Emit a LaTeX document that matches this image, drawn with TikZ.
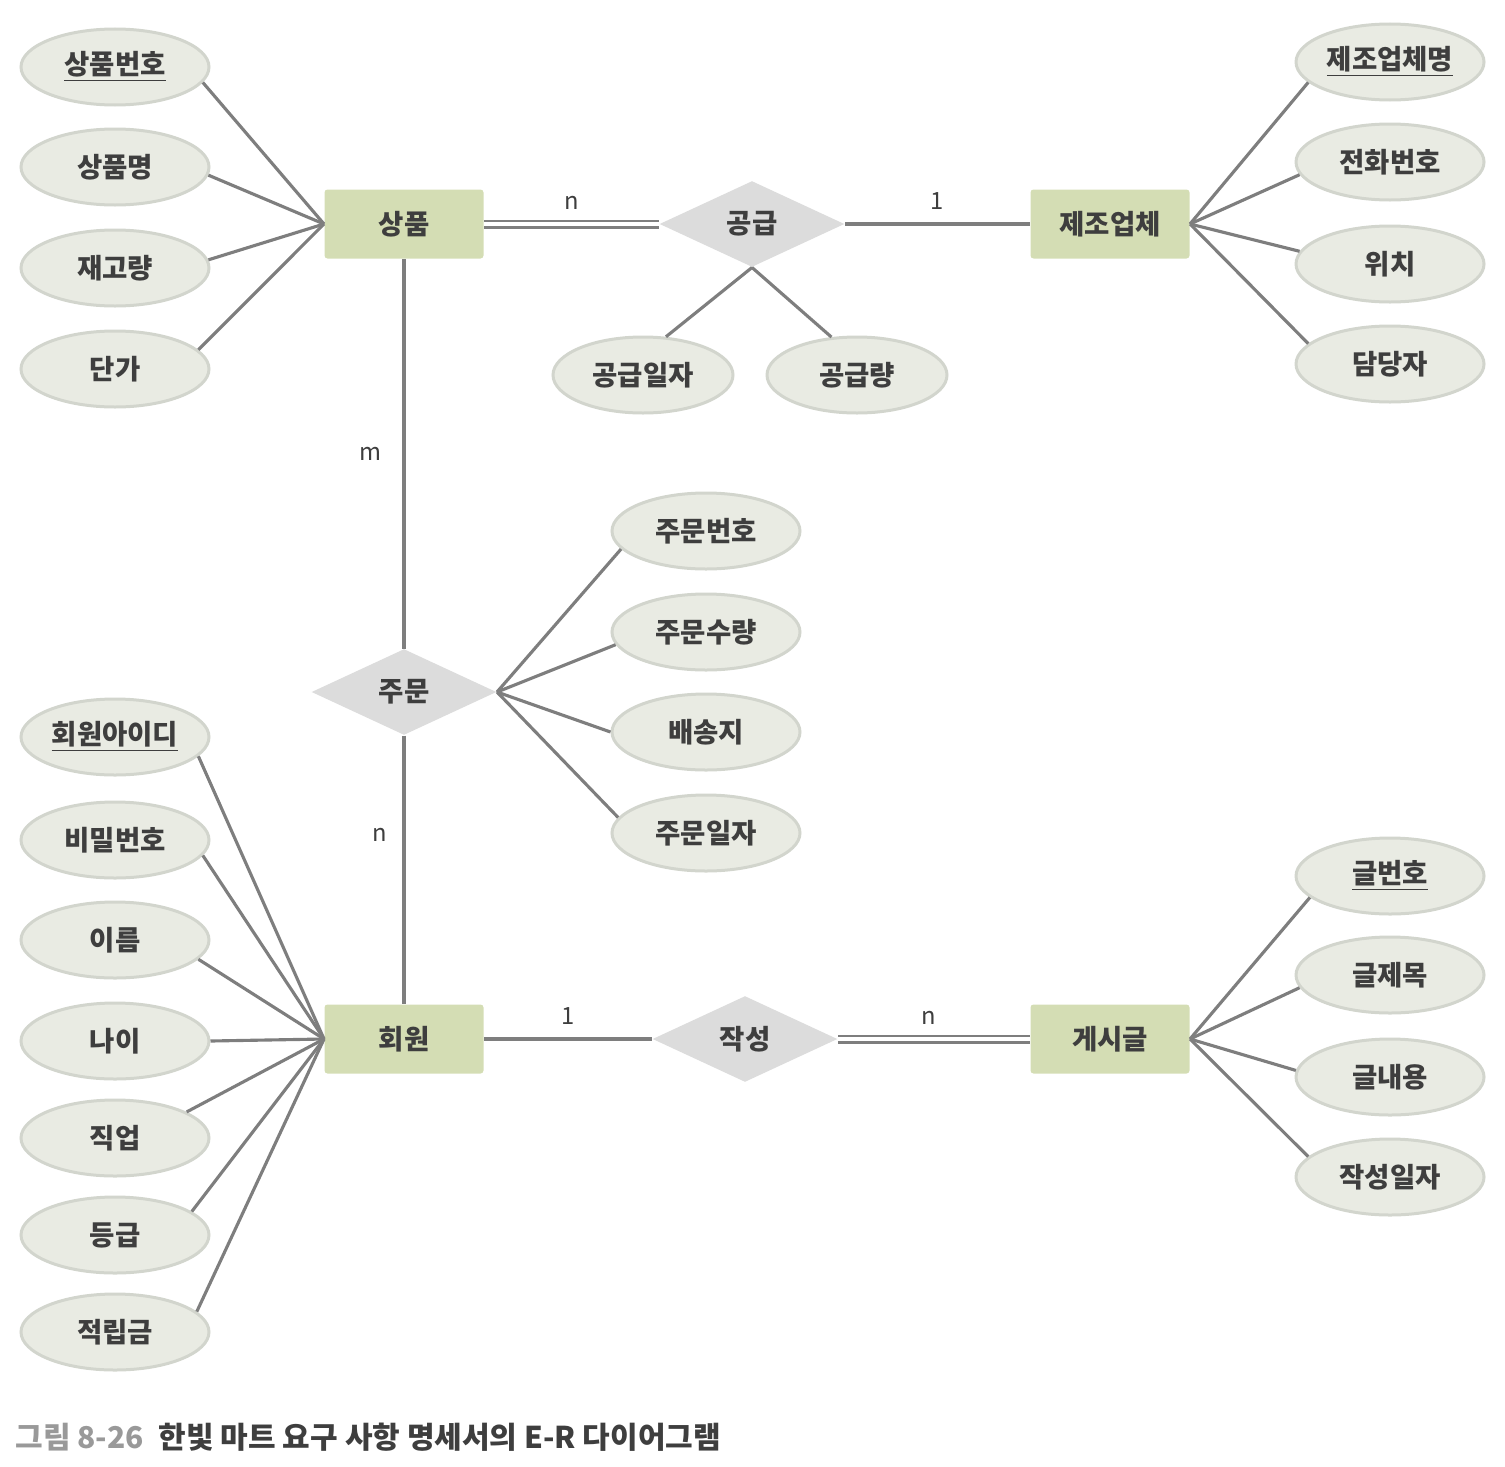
\documentclass[tikz,border=0pt]{standalone}
\usepackage{fontspec}
\setmainfont{Noto Sans CJK KR}
\usetikzlibrary{shapes.geometric}
\definecolor{entfill}{HTML}{D4DDB4}
\definecolor{relfill}{HTML}{DCDCDC}
\definecolor{attfill}{HTML}{E9EBE3}
\definecolor{attdraw}{HTML}{D2D5CD}
\definecolor{linec}{HTML}{7E7E7E}
\definecolor{txtc}{HTML}{3E3E3E}
\tikzset{
  lbl/.style={font=\fontsize{11}{13}\selectfont\bfseries, text=txtc},
  entity/.style={lbl, rectangle, rounded corners=1.2pt, fill=entfill, minimum width=63.6pt, minimum height=27.6pt, inner sep=0pt},
  rel/.style={lbl, diamond, fill=relfill, minimum width=74pt, minimum height=34.4pt, inner sep=0pt, aspect=2.2},
  attr/.style={lbl, ellipse, fill=attfill, draw=attdraw, line width=1.2pt, minimum width=75.2pt, minimum height=30.4pt, inner sep=0pt},
  conn/.style={draw=linec, line width=1.25pt},
  dconn/.style={draw=linec, line width=1pt, double=white, double distance=1.6pt},
  card/.style={font=\fontsize{9.5}{11}\selectfont, text=txtc}
}
\begin{document}
\begin{tikzpicture}[x=0.4pt,y=-0.4pt]
\useasboundingbox (0,0) rectangle (1505,1466);
% entities
\node[entity] (sp) at (404,224) {상품};
\node[entity] (jo) at (1110,224) {제조업체};
\node[entity] (hw) at (404,1039) {회원};
\node[entity] (gs) at (1110,1039) {게시글};
% relationships
\node[rel] (gg) at (752,224) {공급};
\node[rel] (ju) at (404,692) {주문};
\node[rel] (js) at (745,1039) {작성};
% attributes of 상품
\node[attr] (a1) at (115,67) {\underline{상품번호}};
\node[attr] (a2) at (115,167) {상품명};
\node[attr] (a3) at (115,268) {재고량};
\node[attr] (a4) at (115,369) {단가};
% attributes of 제조업체
\node[attr] (b1) at (1390,62) {\underline{제조업체명}};
\node[attr] (b2) at (1390,162) {전화번호};
\node[attr] (b3) at (1390,264) {위치};
\node[attr] (b4) at (1390,364) {담당자};
% attributes of 공급
\node[attr, minimum width=72pt] (c1) at (643,375) {공급일자};
\node[attr, minimum width=72pt] (c2) at (857,375) {공급량};
% attributes of 주문
\node[attr] (d1) at (706,531) {주문번호};
\node[attr] (d2) at (706,632) {주문수량};
\node[attr] (d3) at (706,732) {배송지};
\node[attr] (d4) at (706,833) {주문일자};
% attributes of 회원
\node[attr] (e1) at (115,737) {\underline{회원아이디}};
\node[attr] (e2) at (115,840) {비밀번호};
\node[attr] (e3) at (115,940) {이름};
\node[attr] (e4) at (115,1041) {나이};
\node[attr] (e5) at (115,1138) {직업};
\node[attr] (e6) at (115,1235) {등급};
\node[attr] (e7) at (115,1332) {적립금};
% attributes of 게시글
\node[attr] (f1) at (1390,876) {\underline{글번호}};
\node[attr] (f2) at (1390,975) {글제목};
\node[attr] (f3) at (1390,1077) {글내용};
\node[attr] (f4) at (1390,1177) {작성일자};
% attribute connectors
\foreach \a/\ang in {a1/-10,a2/-5,a3/5,a4/13} \draw[conn] (sp.west) -- (\a.\ang);
\foreach \a/\ang in {b1/194,b2/188,b3/172,b4/166} \draw[conn] (jo.east) -- (\a.\ang);
\draw[conn] (gg.south) -- (c1.59);
\draw[conn] (gg.south) -- (c2.124);
\foreach \a/\ang in {d1/192,d2/188,d3/180,d4/170} \draw[conn] (ju.east) -- (\a.\ang);
\foreach \a/\ang in {e1/-13,e2/-10,e3/-13,e4/0,e5/20,e6/17,e7/14} \draw[conn] (hw.west) -- (\a.\ang);
\foreach \a/\ang in {f1/195,f2/188,f3/176,f4/166} \draw[conn] (gs.east) -- (\a.\ang);
% relationship connectors
\draw[dconn] (sp.east) -- (gg.west) node[pos=0.5, above=2pt, card] {n};
\draw[conn] (gg.east) -- (jo.west) node[pos=0.5, above=2pt, card] {1};
\draw[conn] (sp.south) -- (ju.north) node[pos=0.5, left=5pt, card] {m};
\draw[conn] (ju.south) -- (hw.north) node[pos=0.37, left=3pt, card] {n};
\draw[conn] (hw.east) -- (js.west) node[pos=0.5, above=2pt, card] {1};
\draw[dconn] (js.east) -- (gs.west) node[pos=0.47, above=2pt, card] {n};
% caption
\node[anchor=west, inner sep=0pt, font=\fontsize{12}{14}\selectfont] (cap) at (15,1437)
  {\textcolor{black!40}{\bfseries 그림 8-26}\hspace{6pt}\textcolor{txtc}{\bfseries 한빛 마트 요구 사항 명세서의 E-R 다이어그램}};
\end{tikzpicture}
\end{document}
